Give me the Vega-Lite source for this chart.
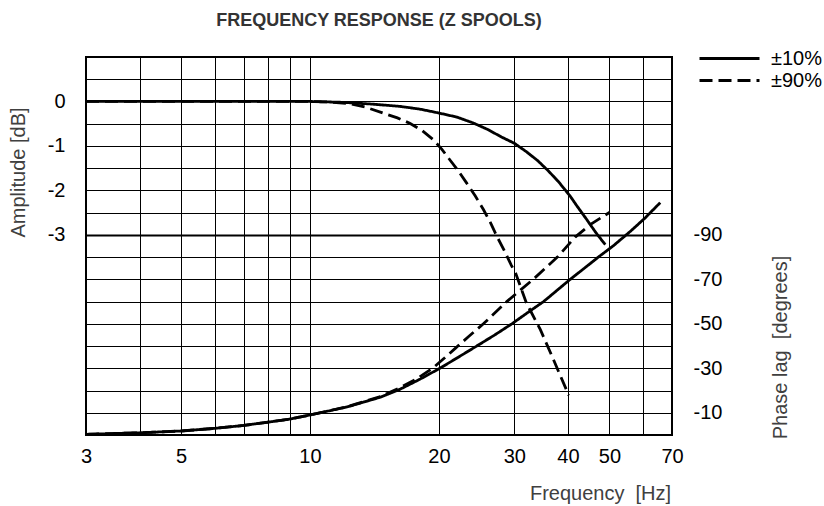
{
  "$schema": "https://vega.github.io/schema/vega-lite/v6.json",
  "width": 586,
  "height": 378,
  "autosize": {"type": "none"},
  "padding": {"left": 86, "top": 57, "right": 152, "bottom": 71},
  "title": {
    "text": "FREQUENCY RESPONSE (Z SPOOLS)",
    "fontSize": 18,
    "fontWeight": "bold",
    "color": "#333333",
    "anchor": "middle",
    "frame": "group",
    "baseline": "alphabetic",
    "offset": 10,
    "dy": 7
  },
  "config": {
    "font": "Liberation Sans",
    "view": {"stroke": "black", "strokeWidth": 2},
    "background": "white"
  },
  "datasets": {
    "amp": [
      {"f": 3, "db": 0, "series": "±10%"},
      {"f": 5, "db": 0, "series": "±10%"},
      {"f": 8, "db": 0, "series": "±10%"},
      {"f": 10, "db": 0, "series": "±10%"},
      {"f": 12, "db": -0.02, "series": "±10%"},
      {"f": 14, "db": -0.06, "series": "±10%"},
      {"f": 16.2, "db": -0.11, "series": "±10%"},
      {"f": 18, "db": -0.17, "series": "±10%"},
      {"f": 20, "db": -0.26, "series": "±10%"},
      {"f": 22, "db": -0.35, "series": "±10%"},
      {"f": 24, "db": -0.48, "series": "±10%"},
      {"f": 26, "db": -0.63, "series": "±10%"},
      {"f": 28, "db": -0.8, "series": "±10%"},
      {"f": 30, "db": -0.94, "series": "±10%"},
      {"f": 32, "db": -1.13, "series": "±10%"},
      {"f": 34, "db": -1.33, "series": "±10%"},
      {"f": 36, "db": -1.56, "series": "±10%"},
      {"f": 38, "db": -1.8, "series": "±10%"},
      {"f": 40.5, "db": -2.13, "series": "±10%"},
      {"f": 42, "db": -2.35, "series": "±10%"},
      {"f": 44.3, "db": -2.66, "series": "±10%"},
      {"f": 46.5, "db": -2.95, "series": "±10%"},
      {"f": 48.9, "db": -3.22, "series": "±10%"},
      {"f": 3, "db": 0, "series": "±90%"},
      {"f": 10, "db": 0, "series": "±90%"},
      {"f": 11, "db": -0.01, "series": "±90%"},
      {"f": 12.4, "db": -0.05, "series": "±90%"},
      {"f": 13.5, "db": -0.13, "series": "±90%"},
      {"f": 14.8, "db": -0.26, "series": "±90%"},
      {"f": 16, "db": -0.37, "series": "±90%"},
      {"f": 17.1, "db": -0.49, "series": "±90%"},
      {"f": 18.3, "db": -0.66, "series": "±90%"},
      {"f": 19.4, "db": -0.86, "series": "±90%"},
      {"f": 20.3, "db": -1.07, "series": "±90%"},
      {"f": 21.2, "db": -1.31, "series": "±90%"},
      {"f": 22.2, "db": -1.56, "series": "±90%"},
      {"f": 23.2, "db": -1.83, "series": "±90%"},
      {"f": 24.3, "db": -2.12, "series": "±90%"},
      {"f": 25.4, "db": -2.43, "series": "±90%"},
      {"f": 26.4, "db": -2.73, "series": "±90%"},
      {"f": 27.3, "db": -3.03, "series": "±90%"},
      {"f": 28.4, "db": -3.35, "series": "±90%"},
      {"f": 29.5, "db": -3.68, "series": "±90%"},
      {"f": 30.2, "db": -3.86, "series": "±90%"},
      {"f": 32, "db": -4.53, "series": "±90%"},
      {"f": 34.5, "db": -5.13, "series": "±90%"},
      {"f": 37, "db": -5.8, "series": "±90%"},
      {"f": 40.2, "db": -6.61, "series": "±90%"}
    ],
    "phase": [
      {"f": 3, "deg": -0.3, "series": "±10%"},
      {"f": 4, "deg": -1.0, "series": "±10%"},
      {"f": 5, "deg": -1.8, "series": "±10%"},
      {"f": 6, "deg": -3.0, "series": "±10%"},
      {"f": 7, "deg": -4.3, "series": "±10%"},
      {"f": 8, "deg": -5.8, "series": "±10%"},
      {"f": 9, "deg": -7.2, "series": "±10%"},
      {"f": 10, "deg": -9.0, "series": "±10%"},
      {"f": 12.2, "deg": -12.6, "series": "±10%"},
      {"f": 14.6, "deg": -17.0, "series": "±10%"},
      {"f": 16.2, "deg": -20.5, "series": "±10%"},
      {"f": 18.1, "deg": -25.2, "series": "±10%"},
      {"f": 20.1, "deg": -30, "series": "±10%"},
      {"f": 22.2, "deg": -35, "series": "±10%"},
      {"f": 24.5, "deg": -40, "series": "±10%"},
      {"f": 27, "deg": -45, "series": "±10%"},
      {"f": 29.6, "deg": -50, "series": "±10%"},
      {"f": 32.2, "deg": -55, "series": "±10%"},
      {"f": 35.1, "deg": -60, "series": "±10%"},
      {"f": 37.7, "deg": -65, "series": "±10%"},
      {"f": 40.5, "deg": -70, "series": "±10%"},
      {"f": 43.7, "deg": -75, "series": "±10%"},
      {"f": 47.1, "deg": -80, "series": "±10%"},
      {"f": 51, "deg": -85, "series": "±10%"},
      {"f": 55.9, "deg": -91.5, "series": "±10%"},
      {"f": 60.5, "deg": -97.5, "series": "±10%"},
      {"f": 65.7, "deg": -104.5, "series": "±10%"},
      {"f": 3, "deg": -0.3, "series": "±90%"},
      {"f": 4, "deg": -1.0, "series": "±90%"},
      {"f": 5, "deg": -1.8, "series": "±90%"},
      {"f": 6, "deg": -3.0, "series": "±90%"},
      {"f": 7, "deg": -4.3, "series": "±90%"},
      {"f": 8, "deg": -5.8, "series": "±90%"},
      {"f": 9, "deg": -7.2, "series": "±90%"},
      {"f": 10, "deg": -9.0, "series": "±90%"},
      {"f": 12.2, "deg": -12.7, "series": "±90%"},
      {"f": 14.6, "deg": -17.3, "series": "±90%"},
      {"f": 16.2, "deg": -21.2, "series": "±90%"},
      {"f": 17.8, "deg": -25.4, "series": "±90%"},
      {"f": 19.4, "deg": -30.3, "series": "±90%"},
      {"f": 20.6, "deg": -34.6, "series": "±90%"},
      {"f": 21.9, "deg": -39.2, "series": "±90%"},
      {"f": 23.5, "deg": -44.4, "series": "±90%"},
      {"f": 25.4, "deg": -50, "series": "±90%"},
      {"f": 28.8, "deg": -60, "series": "±90%"},
      {"f": 33.2, "deg": -70, "series": "±90%"},
      {"f": 37.8, "deg": -80, "series": "±90%"},
      {"f": 41.6, "deg": -89, "series": "±90%"},
      {"f": 45.1, "deg": -94.6, "series": "±90%"},
      {"f": 50.1, "deg": -100.2, "series": "±90%"}
    ]
  },
  "encoding": {
    "x": {
      "field": "f",
      "type": "quantitative",
      "scale": {"type": "log", "domain": [3, 70], "nice": false, "zero": false},
      "axis": {
        "values": [3, 4, 5, 6, 7, 8, 9, 10, 20, 30, 40, 50, 60, 70],
        "labelExpr": "indexof([3, 5, 10, 20, 30, 40, 50, 70], datum.value) >= 0 ? '' + datum.value : ''",
        "grid": true,
        "gridColor": "black",
        "gridOpacity": 1,
        "gridWidth": 1,
        "domain": false,
        "ticks": false,
        "tickSize": 0,
        "labelFlush": false,
        "labelOverlap": false,
        "labelBound": false,
        "labelFontSize": 20,
        "labelColor": "black",
        "labelPadding": 11,
        "title": "Frequency\u00a0 [Hz]",
        "titleFontSize": 20,
        "titleFontWeight": "normal",
        "titleColor": "#404040",
        "titleX": 514,
        "titleY": 58,
        "titleAlign": "center",
        "titleBaseline": "middle"
      }
    },
    "strokeDash": {
      "field": "series",
      "type": "nominal",
      "scale": {"domain": ["±10%", "±90%"], "range": [[1, 0], [13, 6]]},
      "legend": {
        "orient": "none",
        "legendX": 632,
        "legendY": -10,
        "title": null,
        "symbolType": "M-3,0H3",
        "symbolSize": 400,
        "symbolStrokeWidth": 2.8,
        "symbolStrokeColor": "black",
        "labelFontSize": 20,
        "labelColor": "black",
        "labelOffset": 30,
        "rowPadding": 0,
        "padding": 0
      }
    }
  },
  "layer": [
    {
      "data": {"name": "amp"},
      "mark": {"type": "line", "color": "black", "strokeWidth": 2.8, "clip": true},
      "encoding": {
        "y": {
          "field": "db",
          "type": "quantitative",
          "scale": {"domain": [-7.5, 1], "nice": false, "zero": false},
          "axis": {
            "orient": "left",
            "values": [-7.5, -7, -6.5, -6, -5.5, -5, -4.5, -4, -3.5, -3, -2.5, -2, -1.5, -1, -0.5, 0, 0.5, 1],
            "labelExpr": "indexof([0, -1, -2, -3], datum.value) >= 0 ? '' + datum.value : ''",
            "grid": true,
            "gridColor": "black",
            "gridOpacity": 1,
            "gridWidth": {"condition": {"test": "datum.value == -3", "value": 2}, "value": 1},
            "domain": false,
            "ticks": false,
            "tickSize": 0,
            "labelOverlap": false,
            "labelBound": false,
            "labelFlush": false,
            "labelFontSize": 20,
            "labelColor": "black",
            "labelPadding": 21,
            "title": "Amplitude [dB]",
            "titleFontSize": 20,
            "titleFontWeight": "normal",
            "titleColor": "#404040",
            "titleX": -68,
            "titleY": 115,
            "titleAngle": 270,
            "titleAlign": "center",
            "titleBaseline": "middle"
          }
        }
      }
    },
    {
      "data": {"name": "phase"},
      "mark": {"type": "line", "color": "black", "strokeWidth": 2.8, "clip": true},
      "encoding": {
        "y": {
          "field": "deg",
          "type": "quantitative",
          "scale": {"domain": [0, -170], "nice": false, "zero": false},
          "axis": {
            "orient": "right",
            "values": [-90, -70, -50, -30, -10],
            "labelExpr": "'' + datum.value",
            "grid": false,
            "domain": false,
            "ticks": false,
            "tickSize": 0,
            "labelOverlap": false,
            "labelBound": false,
            "labelFlush": false,
            "labelFontSize": 20,
            "labelColor": "black",
            "labelPadding": 21,
            "title": "Phase lag\u00a0 [degrees]",
            "titleFontSize": 20,
            "titleFontWeight": "normal",
            "titleColor": "#404040",
            "titleX": 108,
            "titleY": 290,
            "titleAngle": 270,
            "titleAlign": "center",
            "titleBaseline": "middle"
          }
        }
      }
    }
  ],
  "resolve": {"scale": {"y": "independent"}}
}
